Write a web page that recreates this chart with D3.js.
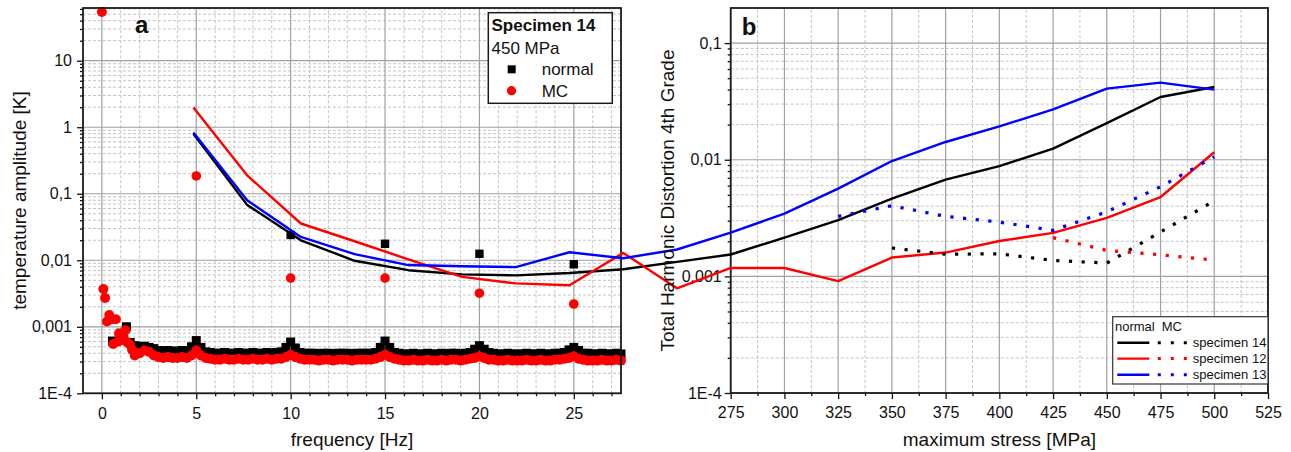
<!DOCTYPE html>
<html>
<head>
<meta charset="utf-8">
<script src="https://cdn.jsdelivr.net/npm/d3@7"></script>
<style>
  body { margin: 0; background: #fff; }
  svg text { font-family: Arial, "Liberation Sans", sans-serif; fill: #111; }
</style>
</head>
<body>
<div id="canvas"></div>
<script>
// ---------- panel a : temperature spectrum ----------
var harmFreq   = [5, 10, 15, 20, 25];
var normalHarm = [null, 0.024, 0.0177, 0.0125, 0.0087];
var mcHarm     = [0.185, 0.0054, 0.0054, 0.0032, 0.0022];

var lowFreqMC = [0, 0.08, 0.17, 0.27, 0.39, 0.5, 0.6, 0.74, 0.85, 0.91, 1.04, 1.15, 1.25, 1.35, 1.48, 1.6, 1.74, 1.88];
var lowMC     = [54, 0.0037, 0.0027, 0.0012, 0.0015, 0.0013, 0.00055, 0.0013, 0.0006, 0.00079, 0.00063, 0.0007, 0.00089, 0.00058, 0.00054, 0.00045, 0.00037, 0.0004];
var lowFreqNormal = [0.56, 0.75, 1.0, 1.3, 1.5, 1.75];
var lowNormal     = [0.00061, 0.0006, 0.0008, 0.001, 0.00058, 0.00052];

// spectrum from 2 Hz to 27.5 Hz every 0.25 Hz
var specStart = 2, specStep = 0.25;
var normalSpec = [
  0.00050, 0.00051, 0.00049, 0.00047, 0.00044, 0.00043, 0.00044, 0.00043, 0.00043, 0.00044, 0.00044, 0.00050,
  0.00062, 0.00049, 0.00042, 0.00041, 0.00040, 0.00040, 0.00041, 0.00040, 0.00040, 0.00041, 0.00040, 0.00040, 0.00041, 0.00040, 0.00040, 0.00041, 0.00040, 0.00041, 0.00042, 0.00049,
  0.00059, 0.00048, 0.00041, 0.00040, 0.00040, 0.00040, 0.00039, 0.00040, 0.00040, 0.00039, 0.00040, 0.00040, 0.00040, 0.00039, 0.00040, 0.00040, 0.00040, 0.00040, 0.00041, 0.00049,
  0.00061, 0.00049, 0.00041, 0.00040, 0.00039, 0.00039, 0.00040, 0.00039, 0.00039, 0.00040, 0.00039, 0.00039, 0.00040, 0.00039, 0.00040, 0.00040, 0.00039, 0.00040, 0.00041, 0.00046,
  0.00052, 0.00046, 0.00041, 0.00040, 0.00039, 0.00039, 0.00040, 0.00039, 0.00039, 0.00039, 0.00040, 0.00039, 0.00039, 0.00040, 0.00039, 0.00039, 0.00040, 0.00040, 0.00041, 0.00045,
  0.00049, 0.00044, 0.00040, 0.00040, 0.00039, 0.00039, 0.00040, 0.00039, 0.00039, 0.00040, 0.00039
];
var mcSpec = [
  0.00040, 0.00044, 0.00042, 0.00037, 0.00035, 0.00034, 0.00035, 0.00034, 0.00034, 0.00035, 0.00034, 0.00037,
  0.00044, 0.00037, 0.00034, 0.00033, 0.00032, 0.00032, 0.00033, 0.00032, 0.00032, 0.00033, 0.00032, 0.00032, 0.00033, 0.00032, 0.00032, 0.00033, 0.00032, 0.00033, 0.00033, 0.00035,
  0.00038, 0.00035, 0.00033, 0.00032, 0.00032, 0.00032, 0.00031, 0.00032, 0.00032, 0.00031, 0.00032, 0.00032, 0.00032, 0.00031, 0.00032, 0.00032, 0.00032, 0.00032, 0.00033, 0.00035,
  0.00038, 0.00035, 0.00033, 0.00032, 0.00031, 0.00031, 0.00032, 0.00031, 0.00031, 0.00032, 0.00031, 0.00031, 0.00032, 0.00031, 0.00032, 0.00032, 0.00031, 0.00032, 0.00033, 0.00034,
  0.00036, 0.00034, 0.00032, 0.00032, 0.00031, 0.00031, 0.00032, 0.00031, 0.00031, 0.00031, 0.00032, 0.00031, 0.00031, 0.00032, 0.00031, 0.00031, 0.00032, 0.00032, 0.00033, 0.00034,
  0.00036, 0.00033, 0.00032, 0.00031, 0.00031, 0.00031, 0.00032, 0.00031, 0.00031, 0.00032, 0.00031
];

var aXTicks = [0, 5, 10, 15, 20, 25];
var aYTicks = [1e-4, 1e-3, 0.01, 0.1, 1, 10];
var aYLabels = ['1E-4', '0,001', '0,01', '0,1', '1', '10'];

// ---------- panel b : THD vs stress (lines are not clipped) ----------
var stress   = [25, 50, 75, 100, 125, 150, 175, 200, 225, 250, 275, 300, 325, 350, 375, 400, 425, 450, 475, 500];
var normal14 = [0.0167, 0.0041, 0.00204, 0.00136, 0.00113, 0.00104, 0.00102, 0.00107, 0.00115, 0.00133, 0.00154, 0.00215, 0.00303, 0.00464, 0.00675, 0.00883, 0.01245, 0.0206, 0.0345, 0.042];
var normal12 = [0.028, 0.00735, 0.00284, 0.0020, 0.0014, 0.00099, 0.00087, 0.00084, 0.00159, 0.00079, 0.00118, 0.00118, 0.00091, 0.00145, 0.0016, 0.00201, 0.00236, 0.00317, 0.00479, 0.0116];
var normal13 = [0.0171, 0.00449, 0.00218, 0.00155, 0.00125, 0.00122, 0.0012, 0.00161, 0.00143, 0.0017, 0.00237, 0.00345, 0.00566, 0.00975, 0.0142, 0.0193, 0.027, 0.0407, 0.0458, 0.0399];

var mcStress14 = [350, 375, 400, 425, 450, 475, 500];
var mc14       = [0.00175, 0.00155, 0.00156, 0.00137, 0.0013, 0.0024, 0.00444];
var mcStress12 = [425, 450, 475, 500];
var mc12       = [0.00215, 0.00167, 0.00153, 0.00138];
var mcStress13 = [325, 350, 375, 400, 425, 450, 475, 500];
var mc13       = [0.00327, 0.00403, 0.00327, 0.00292, 0.00248, 0.00358, 0.00586, 0.0106];

var bXTicks = [275, 300, 325, 350, 375, 400, 425, 450, 475, 500, 525];
var bYTicks = [1e-4, 1e-3, 0.01, 0.1];
var bYLabels = ['1E-4', '0,001', '0,01', '0,1'];

var specNames = ['specimen 14', 'specimen 12', 'specimen 13'];
var specColors = ['#000000', '#ff0000', '#0000ff'];

// ---------- drawing ----------
var svg = d3.select('#canvas').append('svg')
  .attr('width', 1291)
  .attr('height', 452);

var ax = d3.scaleLinear().domain([-1, 27.5]).range([83, 621]);
var ay = d3.scaleLog().domain([1e-4, 62]).range([393.3, 8]);
var bx = d3.scaleLinear().domain([275, 525]).range([730.7, 1268]);
var by = d3.scaleLog().domain([1e-4, 0.2]).range([393, 8]);

var SQ = 9, R = 5;

var logMinors = function(scale) {
  var out = [];
  var dom = scale.domain();
  for (var e = -4; e <= 1; e++) {
    for (var k = 2; k <= 9; k++) {
      var v = k * Math.pow(10, e);
      if (v > dom[0] && v < dom[1] * 0.999) out.push(v);
    }
  }
  return out;
};

var drawGrid = function(x, y, xMajor, xMinor, yMajor, yMinor) {
  var g = svg.append('g');
  var x0 = x.range()[0], x1 = x.range()[1];
  var y0 = y.range()[0], y1 = y.range()[1];
  g.selectAll('line.vmin').data(xMinor).enter().append('line')
    .attr('x1', function(d) { return x(d); }).attr('x2', function(d) { return x(d); })
    .attr('y1', y0).attr('y2', y1)
    .attr('stroke', '#c4c4c4').attr('stroke-dasharray', '3,2');
  g.selectAll('line.hmin').data(yMinor).enter().append('line')
    .attr('x1', x0).attr('x2', x1)
    .attr('y1', function(d) { return y(d); }).attr('y2', function(d) { return y(d); })
    .attr('stroke', '#c4c4c4').attr('stroke-dasharray', '3,2');
  g.selectAll('line.vmaj').data(xMajor).enter().append('line')
    .attr('x1', function(d) { return x(d); }).attr('x2', function(d) { return x(d); })
    .attr('y1', y0).attr('y2', y1)
    .attr('stroke', '#a0a0a0').attr('stroke-width', 1.2);
  g.selectAll('line.hmaj').data(yMajor).enter().append('line')
    .attr('x1', x0).attr('x2', x1)
    .attr('y1', function(d) { return y(d); }).attr('y2', function(d) { return y(d); })
    .attr('stroke', '#a0a0a0').attr('stroke-width', 1.2);
};

var drawAxes = function(x, y, xTicks, xMinor, yTicks, yLabels, yMinor, yPad) {
  var x0 = x.range()[0], x1 = x.range()[1];
  var y0 = y.range()[0], y1 = y.range()[1];
  var bottom = svg.append('g').attr('transform', 'translate(0,' + y0 + ')');
  bottom.call(d3.axisBottom(x).tickValues(xMinor).tickSize(3).tickSizeOuter(0).tickFormat(''));
  bottom.append('g').call(d3.axisBottom(x).tickValues(xTicks).tickSize(6).tickSizeOuter(0).tickPadding(8));
  var left = svg.append('g').attr('transform', 'translate(' + x0 + ',0)');
  left.call(d3.axisLeft(y).tickValues(yMinor).tickSize(3).tickSizeOuter(0).tickFormat(''));
  left.append('g').call(d3.axisLeft(y).tickValues(yTicks).tickSize(6).tickSizeOuter(0).tickPadding(yPad)
    .tickFormat(function(d, i) { return yLabels[i]; }));
  svg.selectAll('.tick line').attr('stroke', '#111').attr('stroke-width', 1.3);
  svg.selectAll('.domain').attr('stroke', 'none');
  svg.selectAll('.tick text').attr('font-size', 16).attr('fill', '#111')
    .attr('font-family', 'Arial, "Liberation Sans", sans-serif');
  // frame
  svg.append('rect')
    .attr('x', x0).attr('y', y1)
    .attr('width', x1 - x0).attr('height', y0 - y1)
    .attr('fill', 'none').attr('stroke', '#1a1a1a').attr('stroke-width', 1.8);
};

// ---- panel a ----
var aXMinor = d3.range(0, 28).filter(function(d) { return d % 5 !== 0; });
drawGrid(ax, ay, aXTicks, aXMinor, aYTicks, logMinors(ay));

var spec = normalSpec.map(function(v, i) { return { f: specStart + i * specStep, v: v, m: mcSpec[i] }; });

svg.append('g').selectAll('rect').data(spec).enter().append('rect')
  .attr('x', function(d) { return ax(d.f) - SQ / 2; })
  .attr('y', function(d) { return ay(d.v) - SQ / 2; })
  .attr('width', SQ).attr('height', SQ).attr('fill', '#000');
svg.append('g').selectAll('rect').data(lowFreqNormal).enter().append('rect')
  .attr('x', function(d) { return ax(d) - SQ / 2; })
  .attr('y', function(d, i) { return ay(lowNormal[i]) - SQ / 2; })
  .attr('width', SQ).attr('height', SQ).attr('fill', '#000');
svg.append('g').selectAll('circle').data(spec).enter().append('circle')
  .attr('cx', function(d) { return ax(d.f); })
  .attr('cy', function(d) { return ay(d.m); })
  .attr('r', R).attr('fill', '#ff0000');
svg.append('g').selectAll('circle').data(lowFreqMC).enter().append('circle')
  .attr('cx', function(d) { return ax(d); })
  .attr('cy', function(d, i) { return ay(lowMC[i]); })
  .attr('r', R).attr('fill', '#ff0000');

var harm = harmFreq.map(function(f, i) { return { f: f, n: normalHarm[i], m: mcHarm[i] }; });
svg.append('g').selectAll('rect').data(harm.filter(function(d) { return d.n !== null; })).enter().append('rect')
  .attr('x', function(d) { return ax(d.f) - 4.2; })
  .attr('y', function(d) { return ay(d.n) - 4.2; })
  .attr('width', 8.4).attr('height', 8.4).attr('fill', '#000');
svg.append('g').selectAll('circle').data(harm).enter().append('circle')
  .attr('cx', function(d) { return ax(d.f); })
  .attr('cy', function(d) { return ay(d.m); })
  .attr('r', 4.8).attr('fill', '#ff0000');

drawAxes(ax, ay, aXTicks, aXMinor, aYTicks, aYLabels, logMinors(ay), 5);

// legend a
svg.append('rect').attr('x', 488.3).attr('y', 12.7).attr('width', 124).attr('height', 90.6)
  .attr('fill', '#fff').attr('stroke', '#1a1a1a').attr('stroke-width', 1.5);
svg.append('text').attr('x', 491.5).attr('y', 31).attr('font-size', 17).attr('font-weight', 'bold').text('Specimen 14');
svg.append('text').attr('x', 491.5).attr('y', 54).attr('font-size', 17).text('450 MPa');
svg.append('rect').attr('x', 507.7).attr('y', 65.3).attr('width', 8).attr('height', 8).attr('fill', '#000');
svg.append('text').attr('x', 541.7).attr('y', 75).attr('font-size', 17).text('normal');
svg.append('circle').attr('cx', 511.5).attr('cy', 90.7).attr('r', 4.6).attr('fill', '#ff0000');
svg.append('text').attr('x', 541.7).attr('y', 97).attr('font-size', 17).text('MC');

svg.append('text').attr('x', 135).attr('y', 33).attr('font-size', 24).attr('font-weight', 'bold').text('a');
svg.append('text').attr('x', 26).attr('y', 200.5).attr('transform', 'rotate(-90,26,200.5)')
  .attr('text-anchor', 'middle').attr('font-size', 19).text('temperature amplitude [K]');
svg.append('text').attr('x', 352).attr('y', 446).attr('text-anchor', 'middle')
  .attr('font-size', 19).text('frequency [Hz]');

// ---- panel b ----
var bXMinor = d3.range(287.5, 525, 25);
drawGrid(bx, by, bXTicks, bXMinor, bYTicks, logMinors(by));
drawAxes(bx, by, bXTicks, bXMinor, bYTicks, bYLabels, logMinors(by), 3);

var line = d3.line()
  .x(function(d) { return bx(d[0]); })
  .y(function(d) { return by(d[1]); });

var solid = [normal14, normal12, normal13];
solid.forEach(function(vals, k) {
  svg.append('path')
    .attr('d', line(stress.map(function(s, i) { return [s, vals[i]]; })))
    .attr('fill', 'none').attr('stroke', specColors[k]).attr('stroke-width', 2.4)
    .attr('stroke-linejoin', 'round');
});

var dotted = [[mcStress14, mc14], [mcStress12, mc12], [mcStress13, mc13]];
dotted.forEach(function(sv, k) {
  svg.append('path')
    .attr('d', line(sv[0].map(function(s, i) { return [s, sv[1][i]]; })))
    .attr('fill', 'none').attr('stroke', specColors[k]).attr('stroke-width', 3.2)
    .attr('stroke-dasharray', '3.2,9.5');
});

// legend b
svg.append('rect').attr('x', 1112.7).attr('y', 316.7).attr('width', 155.3).attr('height', 67.3)
  .attr('fill', '#fff').attr('stroke', '#333').attr('stroke-width', 1.2);
svg.append('text').attr('x', 1115).attr('y', 331).attr('font-size', 13).text('normal');
svg.append('text').attr('x', 1161.7).attr('y', 331).attr('font-size', 13).text('MC');
var rowY = [342.7, 358.6, 374.8];
specNames.forEach(function(name, k) {
  svg.append('line').attr('x1', 1117.3).attr('x2', 1149.3).attr('y1', rowY[k]).attr('y2', rowY[k])
    .attr('stroke', specColors[k]).attr('stroke-width', 2.4);
  svg.append('line').attr('x1', 1157.8).attr('x2', 1187.2).attr('y1', rowY[k]).attr('y2', rowY[k])
    .attr('stroke', specColors[k]).attr('stroke-width', 3).attr('stroke-dasharray', '3,10');
  svg.append('text').attr('x', 1192.7).attr('y', rowY[k] + 4.6).attr('font-size', 13).text(name);
});

svg.append('text').attr('x', 741.7).attr('y', 35).attr('font-size', 24).attr('font-weight', 'bold').text('b');
svg.append('text').attr('x', 673.5).attr('y', 200.5).attr('transform', 'rotate(-90,673.5,200.5)')
  .attr('text-anchor', 'middle').attr('font-size', 19).text('Total Harmonic Distortion 4th Grade');
svg.append('text').attr('x', 999.4).attr('y', 446).attr('text-anchor', 'middle')
  .attr('font-size', 19).text('maximum stress [MPa]');
</script>
</body>
</html>
